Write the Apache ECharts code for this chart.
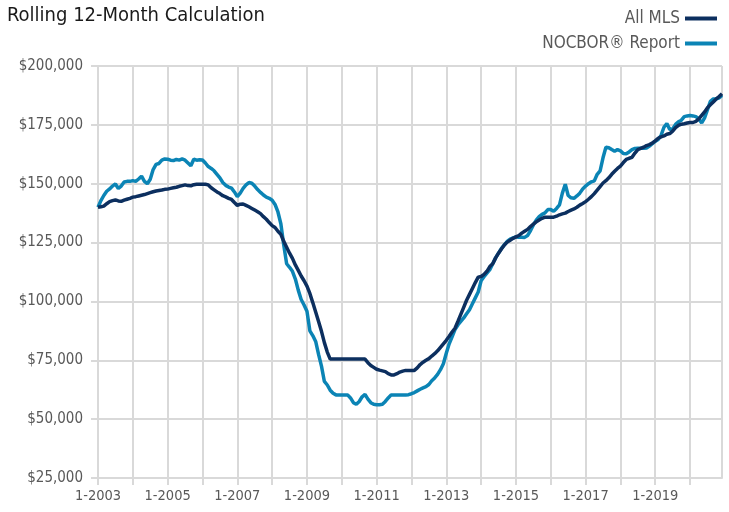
<!DOCTYPE html>
<html>
<head>
<meta charset="utf-8">
<script src="https://cdn.jsdelivr.net/npm/echarts@6/dist/echarts.min.js"></script>
<style>
  html, body { margin: 0; padding: 0; background: #fff; }
  #chart { width: 729px; height: 512px; }
</style>
</head>
<body>
<div id="chart"></div>
<script>
// monthly, Jan 2003 .. Dec 2020 (values in $ thousands)
const startYear = 2003;
const endYear = 2020;

const allMls = [
  140.0, 140.2, 140.5, 141.5, 142.4, 142.8, 143.1, 142.7, 142.5, 143.0, 143.4, 143.8, // 2003
  144.3, 144.5, 144.8, 145.1, 145.4, 145.8, 146.2, 146.6, 146.9, 147.1, 147.3, 147.6, // 2004
  147.7, 148.0, 148.3, 148.5, 148.9, 149.2, 149.5, 149.2, 149.1, 149.6, 149.8, 149.8, // 2005
  149.8, 149.8, 149.5, 148.3, 147.4, 146.5, 145.8, 144.9, 144.4, 143.8, 143.3, 142.0, // 2006
  140.8, 141.3, 141.4, 140.8, 140.2, 139.5, 138.8, 138.1, 137.3, 136.0, 134.9, 133.5, // 2007
  132.2, 131.4, 129.8, 128.5, 125.5, 123.0, 120.5, 118.3, 115.5, 113.2, 110.8, 108.8, // 2008
  106.5, 103.4, 99.5, 95.5, 91.5, 87.3, 82.5, 78.5, 75.5, 75.5, 75.5, 75.5,           // 2009
  75.5, 75.5, 75.5, 75.5, 75.5, 75.5, 75.5, 75.5, 75.5, 74.0, 72.8, 72.0,             // 2010
  71.2, 70.8, 70.5, 70.2, 69.3, 68.8, 68.8, 69.3, 70.0, 70.4, 70.7, 70.7,             // 2011
  70.7, 70.7, 71.8, 73.2, 74.2, 75.0, 75.7, 76.8, 77.8, 79.0, 80.5, 82.0,             // 2012
  83.5, 85.2, 87.0, 88.6, 91.5, 94.5, 97.5, 100.5, 103.0, 105.5, 108.0, 110.3,        // 2013
  110.6, 111.5, 112.8, 114.8, 116.0, 118.5, 120.5, 122.3, 124.0, 125.2, 126.0, 126.8, // 2014
  127.4, 128.0, 129.0, 129.8, 130.6, 131.8, 132.8, 133.8, 134.6, 135.3, 135.8, 135.8, // 2015
  135.8, 135.8, 136.2, 136.8, 137.2, 137.5, 138.2, 138.8, 139.3, 140.0, 140.9, 141.6, // 2016
  142.4, 143.4, 144.5, 145.8, 147.3, 148.8, 150.3, 151.3, 152.5, 154.0, 155.3, 156.5, // 2017
  157.5, 159.0, 160.3, 160.8, 161.2, 163.0, 164.5, 165.0, 165.5, 166.2, 166.6, 167.3, // 2018
  168.2, 169.3, 169.9, 170.3, 171.0, 171.3, 172.3, 173.8, 174.8, 175.3, 175.5, 175.8, // 2019
  176.0, 176.0, 176.5, 177.5, 179.0, 180.5, 182.3, 183.5, 184.7, 186.0, 187.0, 188.2  // 2020
];

const nocbor = [
  140.0, 142.8, 145.0, 146.8, 147.8, 149.0, 149.9, 148.0, 149.0, 150.7, 151.0, 151.0, // 2003
  151.3, 151.0, 152.0, 153.2, 151.0, 150.0, 151.9, 156.0, 158.2, 158.6, 160.0, 160.5, // 2004
  160.4, 160.0, 159.8, 160.3, 160.0, 160.5, 160.0, 158.8, 157.6, 160.4, 160.0, 160.2, // 2005
  160.1, 158.8, 157.3, 156.5, 155.5, 154.0, 152.5, 150.5, 149.3, 148.6, 148.1, 146.5, // 2006
  144.5, 146.0, 148.0, 149.5, 150.5, 150.2, 149.0, 147.5, 146.3, 145.2, 144.3, 143.8, // 2007
  143.0, 141.2, 138.0, 133.0, 124.0, 116.0, 114.5, 112.8, 109.5, 104.8, 100.8, 98.5,  // 2008
  95.8, 87.5, 85.5, 83.0, 77.5, 72.5, 66.0, 64.5, 62.3, 61.0, 60.3, 60.3,             // 2009
  60.3, 60.3, 60.3, 59.0, 57.0, 56.3, 57.5, 59.5, 60.5, 58.5, 57.0, 56.3,             // 2010
  56.1, 56.1, 56.3, 57.5, 59.0, 60.3, 60.3, 60.3, 60.3, 60.3, 60.3, 60.4,             // 2011
  60.8, 61.3, 62.0, 62.7, 63.3, 63.8, 64.7, 66.3, 67.5, 69.0, 71.0, 73.5,             // 2012
  78.0, 82.0, 85.0, 88.0, 90.0, 91.5, 93.0, 94.8, 96.5, 99.0, 101.5, 104.0,           // 2013
  108.8, 110.5, 112.0, 113.5, 116.0, 118.5, 120.5, 122.5, 124.0, 125.5, 126.5, 127.0, // 2014
  127.4, 127.3, 127.3, 127.2, 128.0, 130.0, 132.5, 134.5, 136.0, 137.0, 137.6, 139.0, // 2015
  139.0, 138.3, 139.5, 141.0, 146.0, 149.8, 145.0, 144.0, 143.8, 144.8, 146.0, 147.8, // 2016
  149.0, 150.0, 150.8, 151.2, 154.0, 155.5, 161.0, 165.5, 165.3, 164.5, 163.8, 164.5, // 2017
  164.0, 162.8, 162.7, 163.5, 164.5, 165.0, 165.1, 165.1, 165.1, 165.2, 166.0, 167.0, // 2018
  168.0, 168.8, 170.5, 174.0, 175.6, 173.0, 173.3, 175.2, 176.3, 177.0, 178.5, 178.8, // 2019
  179.0, 178.8, 178.5, 177.5, 175.8, 178.0, 181.5, 185.0, 186.0, 186.0, 186.5, 187.5  // 2020
];

const months = [];
for (let y = startYear; y <= endYear; y++) {
  for (let m = 1; m <= 12; m++) months.push(m + "-" + y);
}
const lastIndex = months.length - 1;

const NARROW = "'DejaVu Sans Condensed', 'Liberation Sans', sans-serif";
const GRID_COLOR = "#d9d9d9";

const chart = echarts.init(document.getElementById("chart"));
chart.setOption({
  animation: false,
  title: {
    text: "Rolling 12-Month Calculation",
    left: 2,
    top: 1,
    textStyle: { fontFamily: NARROW, fontSize: 20, fontWeight: "normal", color: "#1a1a1a" },
  },
  legend: {
    orient: "vertical",
    right: 7,
    top: 5,
    itemWidth: 32,
    itemHeight: 4,
    itemGap: 8,
    align: "right",
    icon: "rect",
    textStyle: { fontFamily: NARROW, fontSize: 17, color: "#595959", width: 150, align: "right" },
    data: ["All MLS", "NOCBOR\u00ae Report"],
  },
  grid: { left: 98, right: 7, top: 66, bottom: 34, containLabel: false },
  xAxis: {
    type: "category",
    data: months,
    boundaryGap: false,
    axisLine: { lineStyle: { color: GRID_COLOR, width: 2 } },
    axisTick: {
      show: true,
      length: 7,
      interval: (i) => i % 12 === 0,
      lineStyle: { color: GRID_COLOR, width: 2 },
    },
    axisLabel: {
      interval: (i) => i % 24 === 0,
      margin: 11,
      fontFamily: NARROW,
      fontSize: 14.5,
      color: "#595959",
    },
    splitLine: {
      show: true,
      interval: (i) => i % 12 === 0 || i === lastIndex,
      lineStyle: { color: GRID_COLOR, width: 2 },
    },
  },
  yAxis: {
    type: "value",
    min: 25,
    max: 200,
    interval: 25,
    axisLine: { show: true, lineStyle: { color: GRID_COLOR, width: 2 } },
    axisTick: { show: true, length: 7, lineStyle: { color: GRID_COLOR, width: 2 } },
    axisLabel: {
      margin: 15,
      fontFamily: NARROW,
      fontSize: 15,
      color: "#595959",
      formatter: (v) => "$" + (v * 1000).toLocaleString("en-US"),
    },
    splitLine: { show: true, lineStyle: { color: GRID_COLOR, width: 2 } },
  },
  series: [
    {
      name: "NOCBOR\u00ae Report",
      type: "line",
      data: nocbor,
      showSymbol: false,
      color: "#0b84b5",
      lineStyle: { width: 3.5, color: "#0b84b5" },
      z: 2,
    },
    {
      name: "All MLS",
      type: "line",
      data: allMls,
      showSymbol: false,
      color: "#0c2f5f",
      lineStyle: { width: 3.5, color: "#0c2f5f" },
      z: 3,
    },
  ],
});
</script>
</body>
</html>
